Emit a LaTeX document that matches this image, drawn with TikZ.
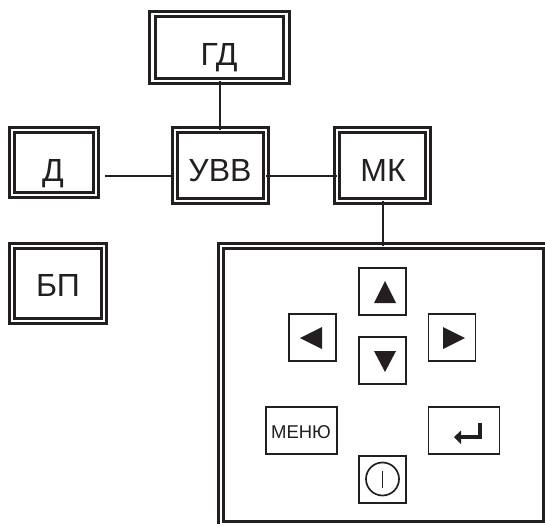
\documentclass[tikz,border=0pt]{standalone}
\usepackage{fontspec}
\setmainfont{Liberation Sans}
\definecolor{ink}{HTML}{231F20}
\tikzset{
  x=1pt,y=-1pt,
  dbox/.style={draw=ink,rectangle,line width=2.7pt,double=white,double distance=2.9pt,inner sep=0pt,outer sep=0pt},
  keybox/.style={draw=ink,rectangle,line width=1.8pt,fill=white,inner sep=0pt,outer sep=0pt,minimum width=47pt,minimum height=47pt},
  wide/.style={minimum width=71pt},
  lbl/.style={text=ink,anchor=base,inner sep=0pt,font=\fontsize{32}{32}\selectfont},
  smalllbl/.style={text=ink,anchor=base,inner sep=0pt,font=\fontsize{18.5}{18.5}\selectfont},
  wire/.style={draw=ink,line width=2pt},
  tri/.style={fill=ink,draw=none}
}
\begin{document}
\begin{tikzpicture}
\useasboundingbox (0,0) rectangle (545,525);
\fill[white] (0,0) rectangle (545,525);
\node[dbox,minimum width=134pt,minimum height=67pt] (gd) at (219.5,47.5) {};
\node[dbox,minimum width=84pt,minimum height=65pt] (d) at (54,162.5) {};
\node[dbox,minimum width=91pt,minimum height=71pt] (uvv) at (220.5,165.5) {};
\node[dbox,minimum width=91pt,minimum height=71pt] (mk) at (382.5,165.5) {};
\node[dbox,minimum width=92pt,minimum height=75pt] (bp) at (58,283.5) {};
\begin{scope}
\clip (0,0) rectangle (545,523.8);
\node[dbox,minimum width=325pt,minimum height=278pt] (panel) at (383.5,385) {};
\end{scope}
\node[lbl] (gdt) at (219,65) {ГД};
\node[lbl] (dt) at (53,181) {Д};
\node[lbl] (uvvt) at (220,181) {УВВ};
\node[lbl] (mkt) at (383,181) {МК};
\node[lbl] (bpt) at (58,296) {БП};
\coordinate (dout) at ([xshift=9pt,yshift=-13pt]d.east);
\draw[wire] (gd.south) -- (gd.south |- uvv.north);
\draw[wire] (dout) -- ([xshift=-2pt]uvv.west |- dout);
\draw[wire] (uvv.east |- dout) -- (mk.west |- dout);
\draw[wire] (mk.south) -- (mk.south |- panel.north);
\node[keybox] (up) at (382.5,291.5) {};
\node[keybox] (left) at (312.5,337.5) {};
\node[keybox] (right) at (452,337.5) {};
\node[keybox] (down) at (382.5,360.5) {};
\node[keybox,wide] (menu) at (301.5,430.5) {};
\node[keybox,wide] (enter) at (464,430.5) {};
\node[keybox] (power) at (382.5,479.5) {};
\node[smalllbl] (menut) at (301,438) {МЕНЮ};
\fill[tri] (385,281) -- (396,303) -- (374,303) -- cycle;
\fill[tri] (300,338) -- (322,327) -- (322,349) -- cycle;
\fill[tri] (465,338) -- (443,327) -- (443,349) -- cycle;
\fill[tri] (385,372) -- (396,351) -- (374,351) -- cycle;
\draw[ink,line width=3.4pt] (480,423) -- (480,437) -- (458,437);
\fill[tri] (454,437) -- (461,430.5) -- (461,444) -- cycle;
\draw[ink,line width=1.7pt] (382.5,479) circle (16.5);
\draw[ink,line width=1.4pt] (382.5,471) -- (382.5,488);
\end{tikzpicture}
\end{document}
